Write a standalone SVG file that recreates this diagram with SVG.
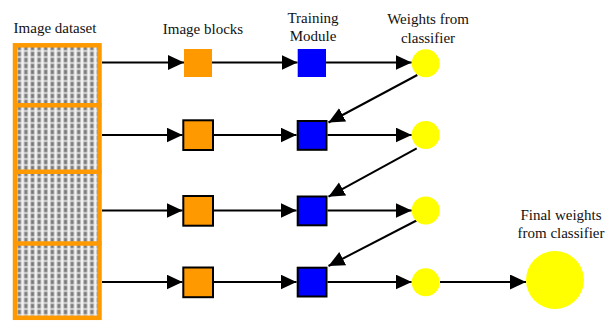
<svg xmlns="http://www.w3.org/2000/svg" width="610" height="322" viewBox="0 0 610 322">
<style>
text{font-family:"Liberation Serif","Times New Roman",serif;font-size:15px;fill:#111;text-anchor:middle}
.ln{stroke:#000;stroke-width:2;fill:none}
.arr{marker-end:url(#ah)}
.blk{fill:#ff9900}
.tm{fill:#0000ff}
.bd{stroke:#000;stroke-width:2}
.w{fill:#ffff00}
</style>
<defs>
<marker id="ah" markerUnits="userSpaceOnUse" markerWidth="17" markerHeight="16" refX="16" refY="7.5" orient="auto">
<path d="M0,0 L16,7.5 L0,15 z" fill="#000"/>
</marker>
<pattern id="tex" patternUnits="userSpaceOnUse" x="16" y="45" width="6.6" height="6">
<rect width="6.6" height="6" fill="#f2f2f2"/>
<rect x="1.4" y="0.5" width="3.8" height="5" fill="#9a9a9a"/>
<rect x="2.3" y="1.5" width="2" height="3" fill="#777"/>
</pattern>
</defs>

<g id="dataset">
<rect x="15" y="45.3" width="84.5" height="272.5" fill="url(#tex)" stroke="#ff9900" stroke-width="4.5"/>
<line x1="13" y1="105.3" x2="101.5" y2="105.3" stroke="#ff9900" stroke-width="4.5"/>
<line x1="13" y1="171.7" x2="101.5" y2="171.7" stroke="#ff9900" stroke-width="4.5"/>
<line x1="13" y1="243.5" x2="101.5" y2="243.5" stroke="#ff9900" stroke-width="4.5"/>
<text x="55" y="33">Image dataset</text>
</g>

<g id="labels">
<text x="203" y="33.5">Image blocks</text>
<text x="313" y="22.5">Training</text>
<text x="313" y="40.5">Module</text>
<text x="428" y="24">Weights from</text>
<text x="428" y="42.5">classifier</text>
<text x="561" y="220">Final weights</text>
<text x="561" y="238">from classifier</text>
</g>

<g id="connectors">
<line class="ln arr" x1="102" y1="62.5" x2="184" y2="62.5"/>
<line class="ln arr" x1="212" y1="62.5" x2="297.5" y2="62.5"/>
<line class="ln arr" x1="326" y1="62.5" x2="411.7" y2="62.5"/>

<line class="ln arr" x1="102" y1="135" x2="182.5" y2="135"/>
<line class="ln arr" x1="214" y1="135" x2="296.5" y2="135"/>
<line class="ln arr" x1="327.5" y1="135" x2="411.7" y2="135"/>

<line class="ln arr" x1="102" y1="210.5" x2="182.5" y2="210.5"/>
<line class="ln arr" x1="214" y1="210.5" x2="296.5" y2="210.5"/>
<line class="ln arr" x1="327.5" y1="210.5" x2="411.7" y2="210.5"/>

<line class="ln arr" x1="102" y1="282" x2="182.5" y2="282"/>
<line class="ln arr" x1="214" y1="282" x2="296.5" y2="282"/>
<line class="ln arr" x1="327.5" y1="282" x2="411.7" y2="282"/>
<line class="ln arr" x1="440" y1="282" x2="526" y2="282"/>

<line class="ln arr" x1="417.3" y1="75" x2="328.5" y2="122.5"/>
<line class="ln arr" x1="416.7" y1="148.3" x2="328.5" y2="196.7"/>
<line class="ln arr" x1="416.5" y1="220.5" x2="328.5" y2="266"/>
</g>

<g id="block1"><rect class="blk" x="184" y="49" width="28" height="28"/></g>
<g id="block2"><rect class="blk bd" x="183.3" y="120.3" width="29.7" height="29.7"/></g>
<g id="block3"><rect class="blk bd" x="183.3" y="196" width="29.7" height="29.7"/></g>
<g id="block4"><rect class="blk bd" x="183.3" y="267.5" width="29.7" height="29.7"/></g>

<g id="train1"><rect class="tm" x="297.7" y="49" width="28.3" height="28"/></g>
<g id="train2"><rect class="tm bd" x="297.7" y="121" width="28.8" height="28.8"/></g>
<g id="train3"><rect class="tm bd" x="297.7" y="196.5" width="28.8" height="28.8"/></g>
<g id="train4"><rect class="tm bd" x="297.7" y="267.7" width="28.8" height="28.8"/></g>

<g id="weights1"><circle class="w" cx="425.7" cy="63.3" r="14"/></g>
<g id="weights2"><circle class="w" cx="425.7" cy="135" r="14"/></g>
<g id="weights3"><circle class="w" cx="425.7" cy="210.5" r="14"/></g>
<g id="weights4"><circle class="w" cx="425.7" cy="282.3" r="14"/></g>
<g id="final"><circle class="w" cx="555" cy="280" r="29"/></g>
</svg>
